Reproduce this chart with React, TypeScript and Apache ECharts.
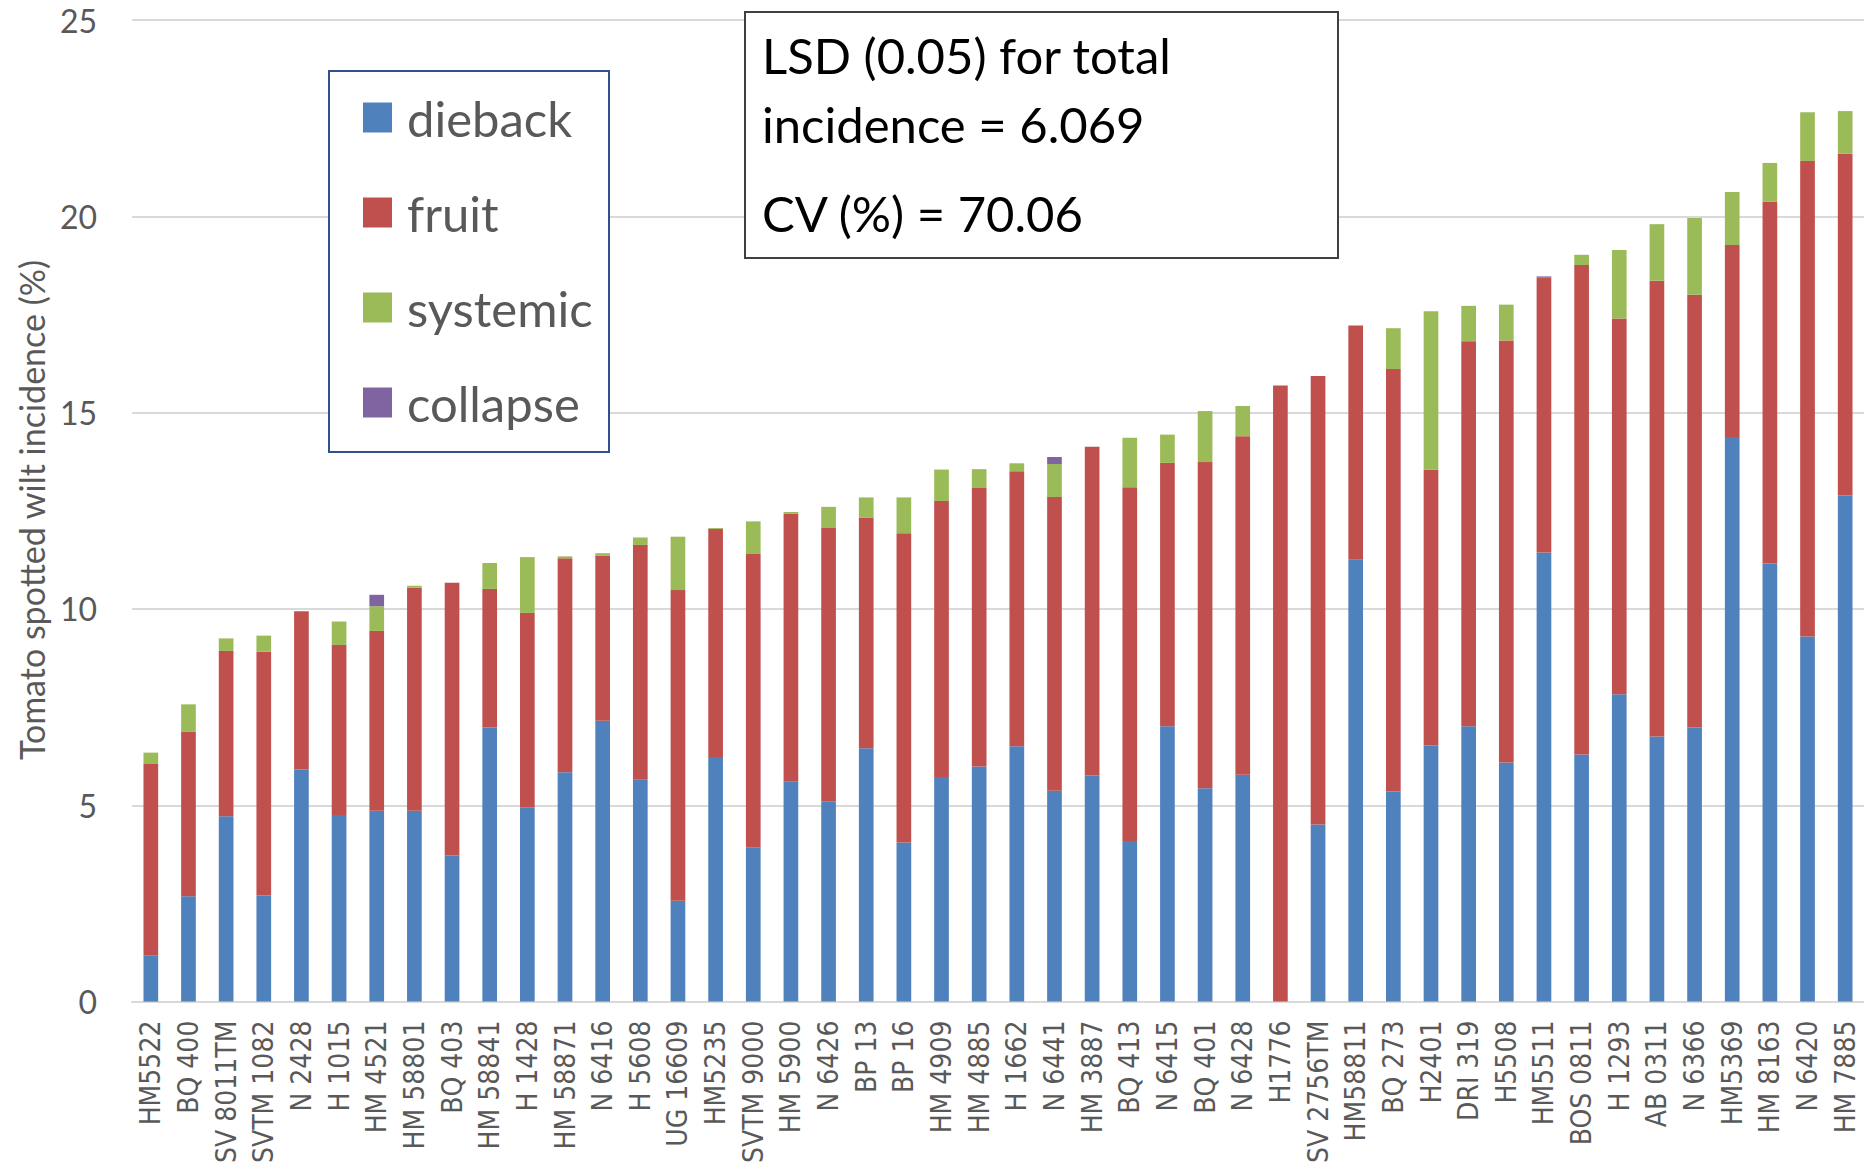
import React, { useEffect, useRef } from "react";
import * as echarts from "echarts";

const categories = [
  "HM5522", "BQ 400", "SV 8011TM", "SVTM 1082", "N 2428", "H 1015", "HM 4521", "HM 58801",
  "BQ 403", "HM 58841", "H 1428", "HM 58871", "N 6416", "H 5608", "UG 16609", "HM5235",
  "SVTM 9000", "HM 5900", "N 6426", "BP 13", "BP 16", "HM 4909", "HM 4885", "H 1662",
  "N 6441", "HM 3887", "BQ 413", "N 6415", "BQ 401", "N 6428", "H1776", "SV 2756TM",
  "HM58811", "BQ 273", "H2401", "DRI 319", "H5508", "HM5511", "BOS 0811", "H 1293",
  "AB 0311", "N 6366", "HM5369", "HM 8163", "N 6420", "HM 7885",
];

const dieback = [
  1.18, 2.68, 4.72, 2.7, 5.91, 4.75, 4.86, 4.86, 3.72, 6.98, 4.95, 5.84, 7.15, 5.65, 2.57, 6.23,
  3.93, 5.61, 5.1, 6.45, 4.05, 5.72, 5.99, 6.5, 5.37, 5.76, 4.09, 7.01, 5.43, 5.78, 0, 4.51,
  11.25, 5.35, 6.52, 7.01, 6.09, 11.44, 6.29, 7.83, 6.75, 6.98, 14.38, 11.16, 9.3, 12.89,
];

const fruit = [
  4.87, 4.19, 4.21, 6.21, 4.03, 4.33, 4.58, 5.68, 6.95, 3.53, 4.95, 5.45, 4.21, 5.98, 7.91, 5.81,
  7.47, 6.81, 6.96, 5.87, 7.88, 7.03, 7.09, 7.01, 7.48, 8.37, 9.01, 6.71, 8.31, 8.62, 15.69, 11.42,
  5.97, 10.76, 7.03, 9.81, 10.75, 7.0, 12.47, 9.57, 11.61, 11.02, 4.89, 9.21, 12.11, 8.7,
];

const systemic = [
  0.29, 0.7, 0.32, 0.41, 0, 0.6, 0.63, 0.05, 0, 0.66, 1.42, 0.05, 0.06, 0.19, 1.36, 0.02,
  0.83, 0.05, 0.54, 0.52, 0.91, 0.8, 0.48, 0.2, 0.84, 0, 1.26, 0.72, 1.3, 0.77, 0, 0,
  0, 1.04, 4.03, 0.9, 0.91, 0, 0.26, 1.74, 1.44, 1.96, 1.35, 0.99, 1.24, 1.09,
];

const collapse = [
  0, 0, 0, 0, 0, 0, 0.29, 0, 0, 0, 0, 0, 0, 0, 0, 0,
  0, 0, 0, 0, 0, 0, 0, 0, 0.18, 0, 0, 0, 0, 0, 0, 0,
  0, 0, 0, 0, 0, 0.03, 0, 0, 0, 0, 0, 0, 0, 0,
];

const seriesNames = ["dieback", "fruit", "systemic", "collapse"];
const seriesColors = ["#4F81BD", "#C0504D", "#9BBB59", "#8064A2"];
const seriesValues = [dieback, fruit, systemic, collapse];

const yAxisTitle = "Tomato spotted wilt incidence (%)";
const statLines = ["LSD (0.05) for total", "incidence = 6.069", "CV (%) = 70.06"];

const CALIBRI = "Lato";

export default function App() {
  const ref = useRef<HTMLDivElement>(null);

  useEffect(() => {
    if (!ref.current) return;
    const chart = echarts.init(ref.current, null, { renderer: "svg" });
    chart.setOption({
      animation: false,
      backgroundColor: "#ffffff",
      grid: { left: 132, top: 20, width: 1734, height: 982, containLabel: false },
      legend: {
        orient: "vertical",
        left: 358,
        top: 88,
        z: 10,
        itemWidth: 29,
        itemHeight: 30,
        itemGap: 46,
        icon: "rect",
        data: seriesNames,
        textStyle: {
          fontFamily: CALIBRI,
          fontSize: 49,
          lineHeight: 30,
          color: "#595959",
          padding: [0, 0, 0, 10],
        },
      },
      xAxis: {
        type: "category",
        data: categories,
        axisTick: { show: false },
        axisLine: { show: true, lineStyle: { color: "#D9D9D9", width: 2 } },
        axisLabel: {
          interval: 0,
          rotate: 90,
          margin: 19,
          fontFamily: "DejaVu Sans Condensed",
          fontSize: 28,
          color: "#595959",
        },
      },
      yAxis: {
        type: "value",
        min: 0,
        max: 25,
        interval: 5,
        axisLine: { show: false },
        axisTick: { show: false },
        splitLine: { lineStyle: { color: "#D9D9D9", width: 2 } },
        axisLabel: {
          margin: 35,
          fontFamily: CALIBRI,
          fontSize: 32,
          color: "#595959",
        },
      },
      graphic: [
        {
          type: "text",
          x: 31,
          y: 510,
          rotation: Math.PI / 2,
          style: {
            text: yAxisTitle,
            fontFamily: CALIBRI,
            fontSize: 34,
            fill: "#595959",
            align: "center",
            verticalAlign: "middle",
          },
        },
        {
          type: "rect",
          z: 5,
          shape: { x: 329, y: 71, width: 280, height: 381 },
          style: { fill: "#ffffff", stroke: "#2F528F", lineWidth: 2 },
        },
        {
          type: "rect",
          z: 5,
          shape: { x: 745, y: 12, width: 593, height: 246 },
          style: { fill: "#ffffff", stroke: "#404040", lineWidth: 2 },
        },
        ...statLines.map((t, i) => ({
          type: "text",
          z: 6,
          x: 762,
          y: [55, 124, 213][i],
          style: {
            text: t,
            fontFamily: CALIBRI,
            fontSize: 49,
            fill: "#000000",
            align: "left",
            verticalAlign: "middle",
          },
        })),
      ],
      series: seriesNames.map((name, i) => ({
        name,
        type: "bar",
        stack: "total",
        barWidth: "39%",
        data: seriesValues[i],
        itemStyle: { color: seriesColors[i] },
      })),
    });
    return () => chart.dispose();
  }, []);

  return (
    <div
      ref={ref}
      style={{ position: "fixed", left: 0, top: 0, width: 1864, height: 1166 }}
    />
  );
}
